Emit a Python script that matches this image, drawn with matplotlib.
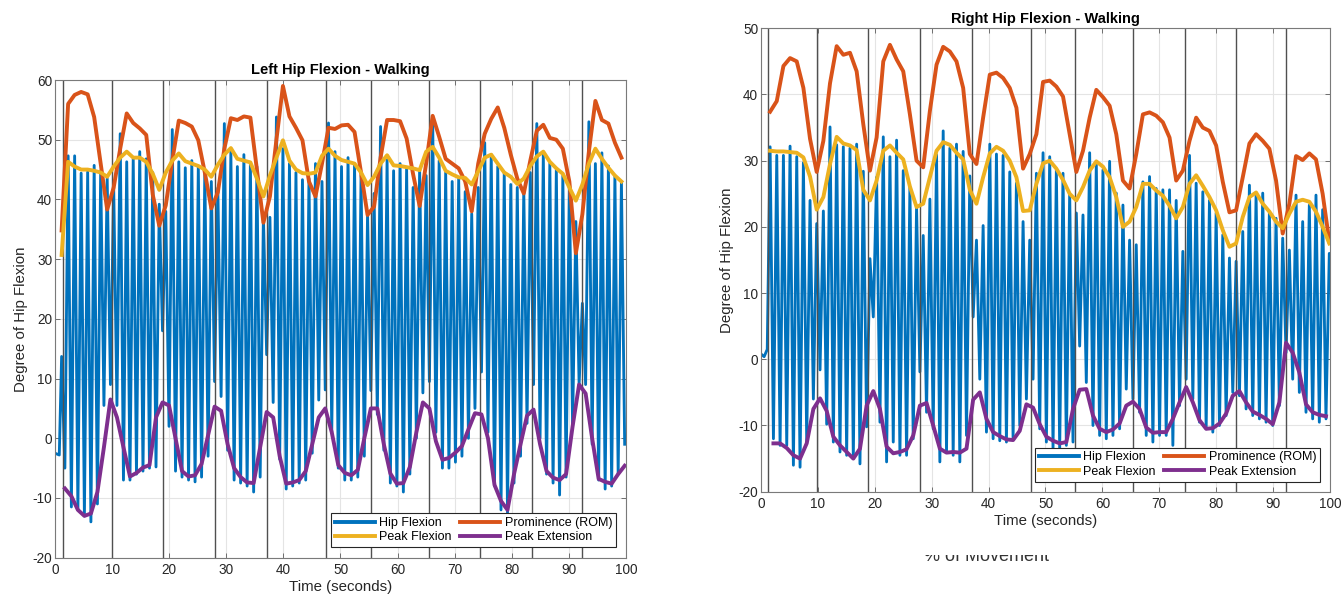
import numpy as np
import matplotlib
matplotlib.use("Agg")
import matplotlib.pyplot as plt
from matplotlib.patches import Rectangle

plt.rcParams['font.family'] = ['Liberation Sans', 'DejaVu Sans']
plt.rcParams['axes.unicode_minus'] = False

# ---------------- left hip ----------------
left_lead_t = [0.0, 0.75]
left_lead_v = [-2.5, -2.8]
# hip flexion tops (every 1.14 s from 1.16) and bottoms (every 1.14 s from 1.73)
left_tops = [13.7, 47.3, 47.3, 44.4, 44.6, 45.7, 44.8, 43.5, 42.0, 51.0,
             46.3, 46.8, 48.0, 46.8, 44.5, 39.2, 38.0, 51.7, 46.3, 45.3,
             46.5, 45.5, 45.0, 43.0, 41.9, 52.7, 48.0, 45.5, 47.5, 46.0,
             45.5, 37.3, 37.0, 53.8, 48.5, 46.0, 44.5, 43.3, 43.5, 46.0,
             43.0, 52.8, 48.0, 45.5, 47.0, 46.0, 44.0, 37.6, 41.0, 52.2,
             46.6, 44.8, 46.0, 45.3, 42.0, 45.0, 44.0, 53.8, 46.5, 44.5,
             43.0, 43.5, 41.3, 37.6, 42.0, 49.5, 47.5, 45.5, 44.5, 42.5,
             42.0, 41.5, 44.5, 52.7, 47.5, 46.0, 45.0, 44.0, 42.5, 36.3,
             22.6, 53.0, 46.0, 47.8, 45.6, 44.0, 43.0]
left_bottoms = [-5.0, -11.5, -12.0, -13.0, -14.0, -11.0, 5.5, 9.0, 5.5, -7.0,
                -7.0, -6.0, -5.5, -5.0, -4.8, 18.0, 2.0, -5.5, -6.5, -7.0,
                -7.3, -6.5, -3.0, 9.5, 7.0, -2.0, -7.0, -7.5, -8.0, -9.0,
                -6.5, 14.0, 6.0, -3.5, -8.5, -8.0, -7.5, -7.0, -2.5, 6.4,
                8.1, 1.0, -5.0, -7.0, -7.0, -6.5, -3.0, 8.0, 4.0, -2.0,
                -7.5, -8.0, -9.0, -6.0, 0.0, 7.6, 9.5, 1.0, -5.0, -5.0,
                -4.0, -3.0, 0.0, 5.0, 11.1, 1.0, -8.0, -12.0, -12.5, -7.5,
                -3.0, 2.5, 9.0, 0.0, -6.0, -7.5, -9.5, -6.5, 2.0, 9.0,
                9.0, -1.0, -7.0, -8.5, -8.0, -6.0, -1.0]
left_peak = [30.7, 46.3, 45.5, 45.0, 45.0, 44.8, 44.5, 43.8, 45.5, 47.0,
             48.0, 47.0, 47.0, 46.3, 44.3, 41.6, 44.5, 46.5, 47.7, 46.4,
             46.0, 45.6, 45.0, 43.8, 45.8, 47.5, 48.6, 46.8, 46.5, 46.2,
             43.5, 40.5, 44.0, 47.0, 49.9, 46.5, 45.0, 44.4, 44.3, 44.5,
             47.3, 48.5, 47.3, 46.6, 46.3, 46.0, 44.5, 42.4, 43.8, 46.0,
             47.4, 45.7, 45.6, 45.4, 45.2, 44.9, 48.0, 48.8, 47.0, 44.8,
             44.2, 43.7, 43.6, 42.5, 44.7, 47.0, 47.5, 46.0, 44.5, 43.8,
             42.6, 43.5, 45.6, 47.2, 48.0, 46.3, 45.2, 44.3, 42.0, 39.8,
             42.5, 46.0, 48.5, 46.8, 45.3, 44.0, 43.0]
left_ext = [-8.4, -9.7, -12.0, -13.0, -12.6, -9.0, -1.5, 6.5, 3.5, -1.5,
            -6.4, -5.8, -4.9, -4.5, 3.5, 6.0, 5.5, 0.0, -5.5, -6.4,
            -6.2, -4.3, 0.5, 5.3, 4.6, -1.0, -5.0, -6.5, -7.4, -7.5,
            -1.5, 4.4, 3.5, -3.0, -7.6, -7.4, -7.0, -5.5, -1.0, 3.5,
            5.0, 1.0, -4.5, -5.8, -6.2, -5.3, 0.0, 5.0, 5.0, -1.0,
            -5.9, -7.6, -7.5, -4.8, 1.0, 6.0, 5.0, -0.5, -3.6, -3.3,
            -2.4, -1.3, 1.5, 4.2, 4.0, 0.0, -7.8, -10.5, -12.0, -6.0,
            -1.0, 3.8, 4.8, -1.0, -5.5, -6.6, -7.0, -6.0, 2.0, 9.0,
            7.5, 0.0, -6.8, -7.3, -7.6, -6.0, -4.6]
left_rom = [34.8, 56.0, 57.5, 58.0, 57.6, 53.8, 46.0, 38.3, 42.0, 48.5,
            54.4, 52.8, 51.9, 50.8, 40.8, 35.6, 39.0, 46.5, 53.2, 52.8,
            52.2, 49.9, 44.5, 38.5, 41.2, 48.5, 53.6, 53.3, 53.9, 53.7,
            45.0, 36.1, 40.5, 50.0, 59.0, 53.9, 52.0, 49.9, 43.0, 40.5,
            46.0, 52.0, 51.8, 52.4, 52.5, 51.3, 44.5, 37.4, 38.8, 47.0,
            53.3, 53.3, 53.1, 50.2, 44.2, 38.9, 46.0, 54.0, 50.5, 46.8,
            46.0, 45.2, 43.0, 38.0, 46.0, 51.0, 53.5, 55.4, 52.0, 47.5,
            43.5, 41.0, 46.5, 51.5, 52.5, 50.3, 50.0, 48.5, 43.0, 31.0,
            37.5, 48.0, 56.5, 53.3, 52.7, 49.5, 47.0]
left_strides = [1.4, 9.9, 18.9, 28.0, 37.1, 47.4, 55.3, 65.5, 74.5, 83.5, 92.3]

# ---------------- right hip ----------------
right_lead_t = [0.0, 0.55, 1.1]
right_lead_v = [0.8, 0.4, 1.5]
right_tops = [32.1, 30.8, 30.8, 32.2, 30.6, 29.7, 24.0, 20.5, 22.4, 35.1,
              32.4, 32.1, 31.9, 32.5, 28.4, 15.2, 27.5, 33.6, 30.6, 33.1,
              28.5, 26.0, 23.0, 18.7, 24.2, 30.9, 34.5, 31.9, 32.5, 31.4,
              27.7, 18.0, 20.2, 32.5, 31.0, 30.8, 28.3, 26.6, 20.8, 18.0,
              28.1, 31.2, 30.6, 28.6, 28.1, 25.1, 22.1, 21.8, 31.2, 29.6,
              28.6, 29.9, 25.1, 23.3, 18.0, 17.3, 26.8, 27.6, 25.8, 25.6,
              25.6, 24.0, 16.3, 30.8, 26.6, 25.3, 24.0, 22.1, 18.8, 15.3,
              14.8, 19.3, 26.3, 24.8, 25.1, 22.3, 21.3, 18.3, 16.5, 24.8,
              20.8, 23.3, 24.8, 22.6, 16.0]
right_bottoms = [-12.0, -13.0, -13.0, -16.0, -16.3, -12.5, -6.0, -1.6, -9.8, -12.5,
                 -14.0, -14.5, -15.0, -15.8, -10.2, 6.4, -9.5, -15.5, -12.5, -14.5,
                 -14.5, -12.0, -1.9, -8.0, -10.5, -15.5, -14.0, -14.5, -15.5, -11.5,
                 6.4, -3.0, -11.0, -12.0, -12.3, -12.5, -12.0, -10.0, -6.0, -3.0,
                 -10.5, -12.5, -13.5, -13.5, -13.0, -12.5, 2.0, -3.5, -10.0, -11.5,
                 -12.0, -11.5, -10.5, -4.5, -6.0, -8.0, -11.5, -12.5, -11.5, -11.5,
                 -13.0, -7.0, -3.0, -6.0, -9.5, -10.5, -11.0, -10.0, -8.5, -5.0,
                 -5.5, -7.5, -8.5, -9.0, -9.5, -10.0, -7.0, 1.0, -3.0, -5.0,
                 -8.0, -9.0, -9.5, -9.0, 7.9]
right_peak = [31.5, 31.4, 31.4, 31.3, 31.2, 30.5, 27.6, 22.6, 24.5, 29.5,
              33.6, 32.6, 32.3, 31.6, 25.6, 24.0, 27.0, 31.5, 32.3, 31.2,
              30.2, 26.1, 23.0, 23.5, 27.5, 31.5, 32.8, 32.4, 31.2, 30.2,
              25.6, 23.5, 27.5, 31.1, 32.1, 31.5, 30.0, 27.5, 22.4, 22.5,
              26.5, 29.6, 30.0, 28.8, 27.1, 25.0, 24.0, 26.0, 28.5, 29.9,
              29.1, 27.5, 24.5, 20.0, 20.8, 23.0, 26.5, 26.5, 25.5, 24.7,
              23.2, 21.3, 23.0, 26.5, 27.8, 26.2, 24.5, 22.5, 19.5, 17.0,
              17.5, 21.5, 24.5, 25.2, 23.5, 22.3, 20.8, 19.8, 22.0, 23.8,
              24.1, 23.8, 22.3, 20.0, 17.5]
right_ext = [-12.7, -12.7, -13.4, -14.5, -15.0, -12.7, -7.5, -5.9, -7.8, -11.7,
             -13.0, -14.0, -15.0, -13.5, -7.0, -4.8, -7.5, -13.2, -14.2, -14.0,
             -13.6, -11.5, -7.0, -6.6, -10.0, -13.5, -14.1, -14.0, -14.1, -13.5,
             -6.1, -5.0, -9.0, -11.0, -11.6, -12.1, -12.2, -10.8, -6.8, -7.3,
             -9.8, -11.7, -12.3, -12.7, -12.5, -7.5, -4.6, -4.5, -8.5, -10.5,
             -11.0, -10.6, -9.7, -7.0, -6.4, -7.5, -10.3, -11.1, -11.0, -11.0,
             -9.0, -6.5, -4.2, -6.5, -9.2, -10.5, -10.4, -9.7, -8.2, -5.5,
             -4.8, -6.5, -7.9, -8.4, -9.0, -9.8, -6.5, 2.5, 1.0, -2.0,
             -6.8, -8.0, -8.4, -8.6]
right_rom = [37.4, 39.0, 44.3, 45.5, 45.0, 41.0, 33.3, 28.3, 33.0, 41.7,
             47.3, 46.0, 46.3, 43.5, 35.5, 28.5, 33.5, 45.0, 47.5, 45.3,
             43.5, 37.0, 30.0, 29.0, 37.5, 44.5, 47.2, 46.5, 45.0, 41.0,
             31.0, 29.5, 36.5, 43.0, 43.3, 42.5, 41.0, 38.0, 28.8, 31.0,
             34.0, 41.9, 42.1, 41.2, 39.7, 34.0, 28.3, 31.5, 36.5, 40.7,
             39.6, 38.3, 34.0, 27.0, 25.8, 31.0, 37.0, 37.3, 36.8, 35.8,
             33.5, 27.0, 28.5, 33.0, 36.5, 35.0, 34.5, 32.3, 26.8, 22.2,
             22.5, 27.5, 32.6, 34.0, 33.0, 31.8, 27.0, 19.0, 23.5, 30.7,
             30.1, 31.1, 30.2, 25.0, 17.8]
right_strides = [1.3, 9.8, 18.8, 27.9, 37.0, 47.4, 55.2, 65.4, 74.5, 83.5, 92.3]

BLUE, ORANGE, YELLOW, PURPLE = '#0072BD', '#D95319', '#EDB120', '#7E2F8E'


def hip_signal(lead_t, lead_v, tops, bottoms, t0, dt):
    # alternate tops and bottoms, half a step apart
    tt = t0 + dt * np.arange(len(tops))
    tb = t0 + dt / 2 + dt * np.arange(len(bottoms))
    t = np.concatenate([lead_t, np.sort(np.concatenate([tt, tb]))])
    v = list(lead_v)
    for i in range(max(len(tops), len(bottoms))):
        if i < len(tops):
            v.append(tops[i])
        if i < len(bottoms):
            v.append(bottoms[i])
    return t, np.array(v)


def draw_panel(ax, title, hip_t, hip_v, t0, dt, peak, ext, rom, strides, ylim):
    tp = t0 + dt * np.arange(len(peak))
    te = t0 + dt / 2 + dt * np.arange(len(ext))
    h1, = ax.plot(hip_t, hip_v, color=BLUE, lw=2.05, zorder=2, label='Hip Flexion')
    for s in strides:
        ax.axvline(s, color='#505050', lw=1.0, zorder=2.5)
    h2, = ax.plot(tp, rom, color=ORANGE, lw=2.8, zorder=3, label='Prominence (ROM)')
    h3, = ax.plot(tp, peak, color=YELLOW, lw=2.8, zorder=3, label='Peak Flexion')
    h4, = ax.plot(te, ext, color=PURPLE, lw=2.8, zorder=3, label='Peak Extension')

    ax.set_xlim(0, 100)
    ax.set_ylim(*ylim)
    ax.set_xticks(range(0, 101, 10))
    ax.set_yticks(range(ylim[0], ylim[1] + 1, 10))
    ax.grid(True, color='#e4e4e4', lw=0.8)
    ax.set_axisbelow(True)
    ax.tick_params(direction='in', top=True, right=True, length=3.5, width=0.7,
                   color='#6e6e6e', labelcolor='#262626', labelsize=9.8)
    ax.tick_params(axis='y', pad=2)
    ax.tick_params(axis='x', pad=4)
    for sp in ax.spines.values():
        sp.set_color('#7a7a7a')
        sp.set_linewidth(0.8)
    ax.set_title(title, fontsize=10.5, fontweight='bold', pad=4)
    ax.set_xlabel('Time (seconds)', fontsize=10.8, color='#262626', labelpad=2)
    ax.set_ylabel('Degree of Hip Flexion', fontsize=10.8, color='#262626', labelpad=3)

    leg = ax.legend([h1, h3, h2, h4], [h.get_label() for h in (h1, h3, h2, h4)],
                    ncol=2, loc='lower right', bbox_to_anchor=(0.9825, 0.022),
                    borderaxespad=0, fontsize=9, fancybox=False, framealpha=1,
                    edgecolor='#262626', handlelength=3.2, handletextpad=0.35,
                    columnspacing=0.7, labelspacing=0.2, borderpad=0.3)
    leg.get_frame().set_linewidth(0.8)
    for line in leg.get_lines():
        line.set_linewidth(2.8)


fig = plt.figure(figsize=(13.42, 5.98), dpi=100)

axL = fig.add_axes([0.04098, 0.06739, 0.42548, 0.79883])
lt, lv = hip_signal(left_lead_t, left_lead_v, left_tops, left_bottoms, 1.16, 1.14)
draw_panel(axL, 'Left Hip Flexion - Walking', lt, lv,
           1.16, 1.14, left_peak, left_ext, left_rom, left_strides, (-20, 60))

axR = fig.add_axes([0.56706, 0.17776, 0.42399, 0.77492])
rt, rv = hip_signal(right_lead_t, right_lead_v, right_tops, right_bottoms, 1.6, 1.17)
draw_panel(axR, 'Right Hip Flexion - Walking', rt, rv,
           1.6, 1.17, right_peak, right_ext, right_rom, right_strides, (-20, 50))

# partly hidden caption below the right chart
fig.text(987 / 1342, (598 - 561) / 598, '% of Movement', ha='center', va='baseline',
         fontsize=13, color='#333333', zorder=3)
fig.add_artist(Rectangle((0.66, (598 - 555) / 598), 0.15, 0.04,
                         transform=fig.transFigure, facecolor='white',
                         edgecolor='none', zorder=5))

fig.savefig('out.png', dpi=100)
